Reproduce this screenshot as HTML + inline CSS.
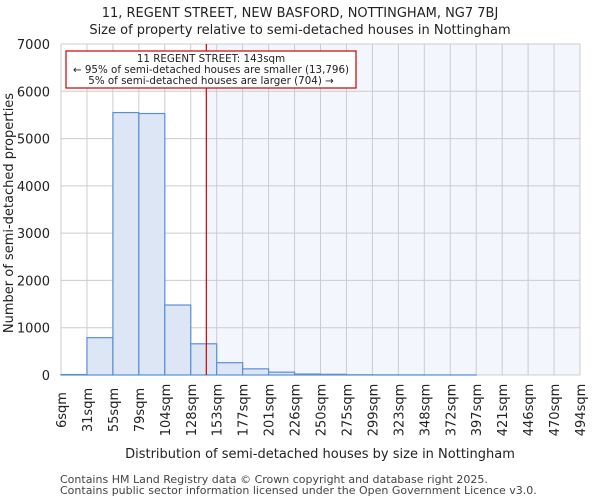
<!DOCTYPE html>
<html><head><meta charset="utf-8"><style>
body{margin:0;background:#fff;font-family:"DejaVu Sans","Liberation Sans",sans-serif;}
</style></head><body>
<svg id="chart" width="600" height="500" xmlns="http://www.w3.org/2000/svg" font-family="DejaVu Sans, Liberation Sans, sans-serif">
<text x="300" y="17" text-anchor="middle" font-size="13" fill="#222">11, REGENT STREET, NEW BASFORD, NOTTINGHAM, NG7 7BJ</text>
<text x="300" y="34" text-anchor="middle" font-size="13" fill="#222">Size of property relative to semi-detached houses in Nottingham</text>
<g id="plot"></g>
<text x="320" y="458" text-anchor="middle" font-size="13" fill="#222">Distribution of semi-detached houses by size in Nottingham</text>
<text transform="translate(13,213) rotate(-90)" text-anchor="middle" font-size="13" fill="#222">Number of semi-detached properties</text>
<text x="60" y="483" font-size="11" fill="#444">Contains HM Land Registry data © Crown copyright and database right 2025.</text>
<text x="60" y="494" font-size="11" fill="#444">Contains public sector information licensed under the Open Government Licence v3.0.</text>
</svg>
<script>
const binLabels=["6sqm","31sqm","55sqm","79sqm","104sqm","128sqm","153sqm","177sqm","201sqm","226sqm","250sqm","275sqm","299sqm","323sqm","348sqm","372sqm","397sqm","421sqm","446sqm","470sqm","494sqm"];
const binStarts=[6,31,55,79,104,128,153,177,201,226,250,275,299,323,348,372,397,421,446,470,494];
const counts=[10,790,5550,5530,1480,660,260,130,60,20,15,5,3,2,1,1,0,0,0,0];
const yTicks=[0,1000,2000,3000,4000,5000,6000,7000];
const markerValue=143;
const NS="http://www.w3.org/2000/svg";
const L=61,R=580,T=44,B=375,yMax=7000;
const n=counts.length;
const xIdx=i=>L+(R-L)*i/n;
const xVal=v=>{for(let i=0;i<n;i++){if(v<=binStarts[i+1])return xIdx(i)+(v-binStarts[i])/(binStarts[i+1]-binStarts[i])*(R-L)/n;}return R;};
const y=v=>B-(B-T)*v/yMax;
const g=document.getElementById('plot');
function mk(t,a){const e=document.createElementNS(NS,t);for(const k in a)e.setAttribute(k,a[k]);g.appendChild(e);return e;}
const mx=xVal(markerValue);
let e=mk('rect',{x:mx,y:T,width:R-mx,height:B-T,fill:'#f3f6fd'});


yTicks.forEach(t=>{
 let l=mk('line',{x1:L,x2:R,y1:y(t),y2:y(t),stroke:'#cccccc'});
 
 
 let tx=mk('text',{x:L-11,y:y(t)+5,'text-anchor':'end','font-size':13,fill:'#222'});
 tx.textContent=t;
 
 
});
for(let i=0;i<=n;i++){
 let l=mk('line',{x1:xIdx(i),x2:xIdx(i),y1:T,y2:B,stroke:'#cccccc'});
 
 
 let tx=mk('text',{transform:`translate(${xIdx(i)+5},410) rotate(-90)`,'text-anchor':'middle','font-size':13,fill:'#222'});
 tx.textContent=binLabels[i];
 
 
}
counts.forEach((c,i)=>{
 if(c<=0)return;
 let r=mk('rect',{x:xIdx(i),y:y(c),width:(R-L)/n,height:B-y(c),fill:'#dce6f4',stroke:'#5b8fd6','stroke-width':1.2});
 
 
});
e=mk('line',{x1:mx,x2:mx,y1:T,y2:B,stroke:'#cc0000','stroke-width':1.2});


e=mk('rect',{x:66,y:51,width:290,height:37,fill:'#fff',stroke:'#cc0000','stroke-width':1.2});


[["11 REGENT STREET: 143sqm",62],["← 95% of semi-detached houses are smaller (13,796)",73],["5% of semi-detached houses are larger (704) →",84]].forEach(a=>{
 let t=mk('text',{x:211,y:a[1],'text-anchor':'middle','font-size':10.3,fill:'#222'});
 t.textContent=a[0];
 
 
});
</script>
</body></html>
